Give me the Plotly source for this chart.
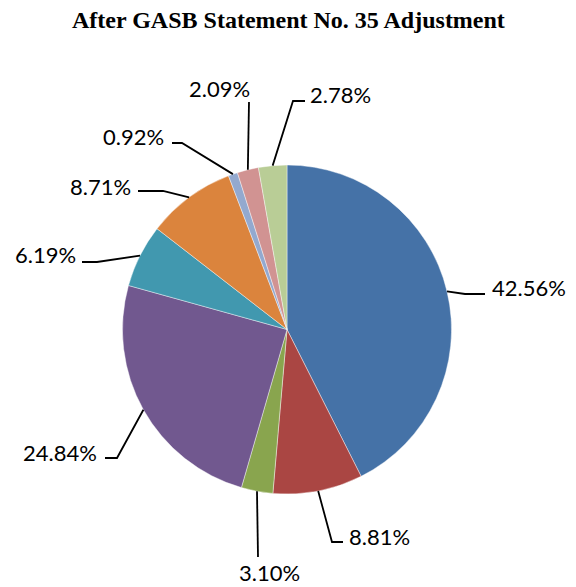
import math
import plotly.graph_objects as go

# ---- data ----
values = [42.56, 8.81, 3.10, 24.84, 6.19, 8.71, 0.92, 2.09, 2.78]
colors = ["#4572A7", "#AA4643", "#89A54E", "#71588F", "#4198AF",
          "#DB843D", "#93A9CF", "#D19392", "#B9CD96"]
title_text = "After GASB Statement No. 35 Adjustment"

# ---- layout constants (pixels) ----
W, H = 576, 587
CX, CY, R = 287, 329.5, 164.5
# leader-line elbow / end points and label placement (pixel layout)
elbows = [(465, 294), (332, 542), (258, 557), (117, 458), (97, 262),
          (163, 191), (182, 143), (249, 102), (293, 101)]
ends = [(485, 294), (343, 542), None, (105, 458), (82, 262),
        (138, 191), (172, 143), None, (305, 101)]
label_pos = [(490, 288, "left"), (347, 536, "left"), (269, 572, "center"),
             (99, 452, "right"), (78, 254, "right"), (133, 186, "right"),
             (166, 137, "right"), (219, 88, "center"), (308, 94, "left")]


def px(x):
    return x / W


def py(y):
    return 1 - y / H


fig = go.Figure()
fig.add_trace(go.Pie(
    values=values,
    marker=dict(colors=colors, line=dict(color="rgba(255,255,255,0.7)", width=0.6)),
    sort=False,
    direction="clockwise",
    rotation=0,
    textinfo="none",
    hoverinfo="value",
    showlegend=False,
    domain=dict(x=[px(CX - R), px(CX + R)], y=[py(CY + R), py(CY - R)]),
))

total = sum(values)
cum = 0.0
shapes = []
annotations = []
for i, v in enumerate(values):
    mid = (cum + v / 2) / total * 2 * math.pi
    cum += v
    sx = CX + R * math.sin(mid)
    sy = CY - R * math.cos(mid)
    pts = [(sx, sy), elbows[i]]
    if ends[i] is not None:
        pts.append(ends[i])
    path = "M {} {}".format(px(pts[0][0]), py(pts[0][1]))
    for (x, y) in pts[1:]:
        path += " L {} {}".format(px(x), py(y))
    shapes.append(dict(type="path", path=path, xref="paper", yref="paper",
                       line=dict(color="black", width=1.8)))
    lx, ly, anc = label_pos[i]
    annotations.append(dict(
        x=px(lx), y=py(ly), xref="paper", yref="paper",
        text="{:.2f}%".format(v), showarrow=False,
        xanchor=anc, yanchor="middle",
        font=dict(family="Lato, Open Sans, sans-serif", size=22, color="black"),
    ))

annotations.append(dict(
    x=0.5, y=py(20), xref="paper", yref="paper",
    text="<b>" + title_text + "</b>", showarrow=False,
    xanchor="center", yanchor="middle",
    font=dict(family="Liberation Serif, Times New Roman, serif", size=24, color="black"),
))

fig.update_layout(
    width=W, height=H,
    margin=dict(l=0, r=0, t=0, b=0),
    paper_bgcolor="white",
    plot_bgcolor="white",
    shapes=shapes,
    annotations=annotations,
)

fig.write_html("out.html",
               config={"displayModeBar": False},
               post_script="document.body.style.margin='0';document.body.style.padding='0';")
